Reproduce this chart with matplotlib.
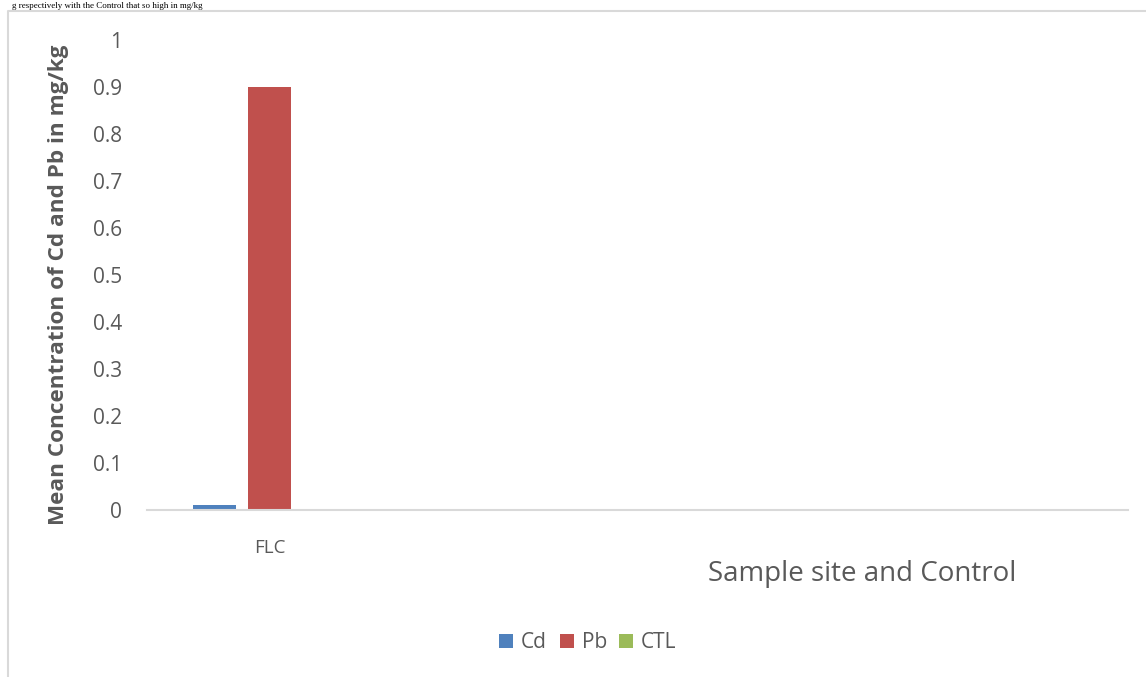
import numpy as np
import matplotlib.pyplot as plt
from matplotlib.lines import Line2D

# data
sites = ["FLC", "", "", ""]
cd = [0.01, 0, 0, 0]
pb = [0.9, 0, 0, 0]
ctl = [0, 0, 0, 0]
yticks = [0, 0.1, 0.2, 0.3, 0.4, 0.5, 0.6, 0.7, 0.8, 0.9, 1]
ytick_labels = ["0", "0.1", "0.2", "0.3", "0.4", "0.5", "0.6", "0.7", "0.8", "0.9", "1"]

W, H = 1146, 677
txt = "#595959"
grid = "#d9d9d9"
plt.rcParams['font.family'] = ['Open Sans', 'DejaVu Sans']

fig = plt.figure(figsize=(W / 100, H / 100), dpi=100)
ax = fig.add_axes([147 / W, 1 - 510 / H, (1128 - 147) / W, (510 - 40) / H])

x = np.arange(len(sites))
bw = 0.175
off = 0.2236
ax.bar(x - off, cd, bw, color="#4F81BD", label="Cd")
ax.bar(x, pb, bw, color="#C0504D", label="Pb")
ax.bar(x + off, ctl, bw, color="#9BBB59", label="CTL")

ax.set_xlim(-0.5, len(sites) - 0.5)
ax.set_ylim(0, 1)
ax.set_yticks(yticks)
ax.set_yticklabels(ytick_labels)
ax.set_xticks(x)
ax.set_xticklabels(sites)
ax.tick_params(axis="y", length=0, pad=18, labelsize=15, labelcolor=txt)
ax.tick_params(axis="x", length=0, pad=21, labelsize=13.5, labelcolor=txt)
for s in ["top", "right", "left"]:
    ax.spines[s].set_visible(False)
ax.spines["bottom"].set_color(grid)
ax.spines["bottom"].set_linewidth(1.5)

fig.text(59 / W, 1 - 285 / H, "Mean Concentration of Cd and Pb in mg/kg",
         rotation=90, ha="center", va="center", fontsize=16.2,
         fontweight="bold", color=txt)
fig.text(708 / W, 1 - 574 / H, "Sample site and Control", ha="left",
         va="center", fontsize=20, color=txt)

fig.legend(loc="center", bbox_to_anchor=(588 / W, 1 - 643 / H), ncol=3,
           frameon=False, fontsize=15, handlelength=0.67, handleheight=0.67,
           handletextpad=0.38, columnspacing=0.6, labelcolor=txt)

# outer chart frame (left and top edges visible)
fig.add_artist(Line2D([7.5 / W, 7.5 / W, 1], [0, 1 - 11 / H, 1 - 11 / H],
                      transform=fig.transFigure, color=grid, lw=1.5))

# line of body text just above the chart frame
fig.text(12 / W, 1 - 8 / H, "g respectively with the Control that so high in mg/kg",
         ha="left", va="baseline", fontsize=6.5, color="black",
         family="Liberation Serif")

fig.savefig("out.png", dpi=100)
